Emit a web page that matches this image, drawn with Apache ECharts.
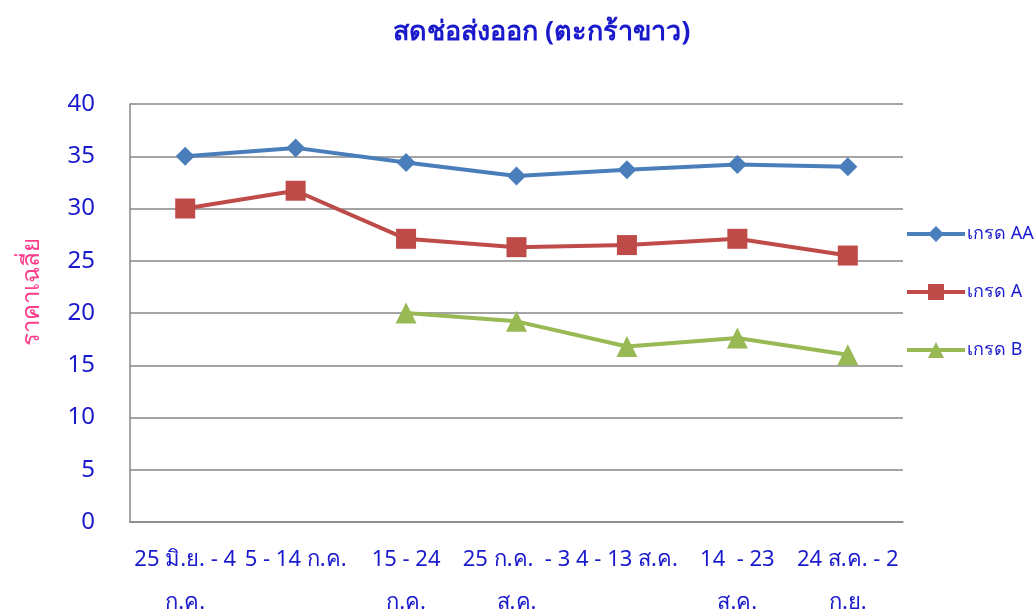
<!DOCTYPE html>
<html>
<head>
<meta charset="utf-8">
<script src="https://cdn.jsdelivr.net/npm/echarts@6/dist/echarts.min.js"></script>
<style>
  html, body { margin: 0; padding: 0; background: #fff; }
  #chart { width: 1035px; height: 611px; }
</style>
</head>
<body>
<div id="chart"></div>
<script>
  // ช่วงเวลา (แกน x)
  const categories = [
    '25 มิ.ย. - 4\nก.ค.',
    '5 - 14 ก.ค.',
    '15 - 24\nก.ค.',
    '25 ก.ค.  - 3\nส.ค.',
    '4 - 13 ส.ค.',
    '14  - 23\nส.ค.',
    '24 ส.ค. - 2\nก.ย.'
  ];
  const gradeAA = [35.0, 35.8, 34.4, 33.1, 33.7, 34.2, 34.0];
  const gradeA = [30.0, 31.7, 27.1, 26.3, 26.5, 27.1, 25.5];
  const gradeB = [null, null, 20.0, 19.2, 16.8, 17.6, 16.0];

  const blue = '#1a1acc';
  const font = '"Noto Sans", "DejaVu Sans", sans-serif';

  let chart = echarts.init(document.getElementById('chart'));
  chart.setOption({
    animation: false,
    textStyle: { fontFamily: font },
    title: {
      text: 'สดช่อส่งออก (ตะกร้าขาว)',
      left: 388,
      top: 14,
      textStyle: { color: blue, fontSize: 27, fontWeight: 'bold', fontFamily: font }
    },
    legend: {
      orient: 'vertical',
      left: 900,
      top: 220,
      itemWidth: 58,
      itemHeight: 20,
      itemGap: 40,
      lineStyle: { width: 4 },
      textStyle: { color: blue, fontSize: 18, padding: [0, 0, 0, -3] },
      data: ['เกรด AA', 'เกรด A', 'เกรด B']
    },
    grid: { left: 130, right: 132, top: 104, bottom: 89, outerBoundsMode: 'none' },
    xAxis: {
      type: 'category',
      data: categories,
      axisLine: { lineStyle: { color: '#868686', width: 1.5 } },
      axisTick: { show: false },
      axisLabel: {
        color: blue,
        fontSize: 22,
        lineHeight: 43,
        margin: 16,
        interval: 0,
        hideOverlap: false
      }
    },
    yAxis: {
      type: 'value',
      name: 'ราคาเฉลี่ย',
      nameLocation: 'middle',
      nameGap: 86,
      nameRotate: 90,
      nameTextStyle: { color: '#ff3d8b', fontSize: 24, padding: [0, 0, 0, 42] },
      min: 0,
      max: 40,
      interval: 5,
      axisLine: { show: true, lineStyle: { color: '#868686', width: 1.5 } },
      axisTick: { show: false },
      axisLabel: { color: blue, fontSize: 24, margin: 35 },
      splitLine: { lineStyle: { color: '#868686', width: 1.5 } }
    },
    series: [{
      name: 'เกรด AA',
      type: 'line',
      data: gradeAA,
      symbol: 'diamond',
      symbolSize: 19,
      lineStyle: { width: 4, color: '#4a7ebb' },
      itemStyle: { color: '#4a7ebb' }
    }, {
      name: 'เกรด A',
      type: 'line',
      data: gradeA,
      symbol: 'rect',
      symbolSize: 20,
      lineStyle: { width: 4, color: '#be4b48' },
      itemStyle: { color: '#be4b48' }
    }, {
      name: 'เกรด B',
      type: 'line',
      data: gradeB,
      symbol: 'triangle',
      symbolSize: 21,
      lineStyle: { width: 4, color: '#98b954' },
      itemStyle: { color: '#98b954' }
    }]
  });
</script>
</body>
</html>
